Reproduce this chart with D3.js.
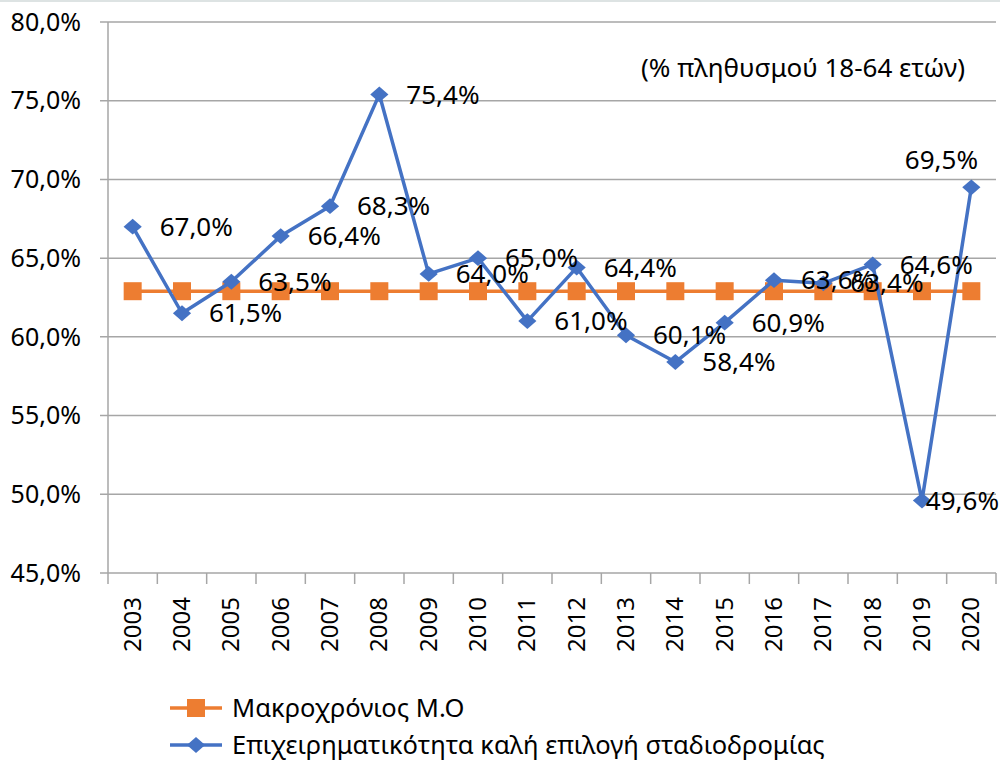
<!DOCTYPE html>
<html>
<head>
<meta charset="utf-8">
<script src="https://cdn.jsdelivr.net/npm/d3@7"></script>
<style>
  body { margin: 0; background: #fff; }
  svg text { font-family: "Noto Sans", "DejaVu Sans", sans-serif; fill: #000; }
</style>
</head>
<body>
<svg id="chart" width="1000" height="762"></svg>
<script>
const years = ["2003","2004","2005","2006","2007","2008","2009","2010","2011","2012","2013","2014","2015","2016","2017","2018","2019","2020"];
const careerChoice = [67.0, 61.5, 63.5, 66.4, 68.3, 75.4, 64.0, 65.0, 61.0, 64.4, 60.1, 58.4, 60.9, 63.6, 63.4, 64.6, 49.6, 69.5];
const longTermAvg = [62.9, 62.9, 62.9, 62.9, 62.9, 62.9, 62.9, 62.9, 62.9, 62.9, 62.9, 62.9, 62.9, 62.9, 62.9, 62.9, 62.9, 62.9];
const yTicks = [45, 50, 55, 60, 65, 70, 75, 80];
const seriesNames = ["Μακροχρόνιος Μ.Ο", "Επιχειρηματικότητα καλή επιλογή σταδιοδρομίας"];
const note = "(% πληθυσμού 18-64 ετών)";

const orange = "#ED7D31";
const blue = "#4472C4";
const grid = "#a6a6a6";

const svg = d3.select("#chart");
const plotLeft = 108, plotRight = 996, plotTop = 22, plotBottom = 573;

const x = d3.scaleBand().domain(years).range([plotLeft, plotRight]);
const y = d3.scaleLinear().domain([45, 80]).range([plotBottom, plotTop]);
const fmt = v => d3.format(".1f")(v).replace(".", ",") + "%";

// thin border at top of the chart area
svg.append("rect").attr("x", 0).attr("y", 0).attr("width", 1000).attr("height", 2).attr("fill", "#dde3e3");

// horizontal gridlines
svg.append("g").selectAll("line").data(yTicks).join("line")
  .attr("x1", plotLeft - 8).attr("x2", plotRight)
  .attr("y1", d => y(d)).attr("y2", d => y(d))
  .attr("stroke", grid).attr("stroke-width", 1.5);

// y axis line
svg.append("line").attr("x1", plotLeft).attr("x2", plotLeft).attr("y1", plotTop).attr("y2", plotBottom)
  .attr("stroke", grid).attr("stroke-width", 1.5);

// y tick labels
svg.append("g").selectAll("text").data(yTicks).join("text")
  .attr("x", 81).attr("y", d => y(d)).attr("dy", "0.35em")
  .attr("text-anchor", "end").attr("font-size", 25)
  .text(d => fmt(d));

// x axis ticks at band edges
const edges = years.map(d => x(d)).concat([plotRight]);
svg.append("g").selectAll("line").data(edges).join("line")
  .attr("x1", d => d).attr("x2", d => d).attr("y1", plotBottom).attr("y2", plotBottom + 11)
  .attr("stroke", grid).attr("stroke-width", 1.5);

// x labels rotated
svg.append("g").selectAll("text").data(years).join("text")
  .attr("transform", d => `translate(${x(d) + x.bandwidth() / 2 + 8},${597}) rotate(-90)`)
  .attr("text-anchor", "end").attr("font-size", 24)
  .text(d => d);

const cx = i => x(years[i]) + x.bandwidth() / 2;
const line = d3.line().x((d, i) => cx(i)).y(d => y(d));

// long-term average
svg.append("path").datum(longTermAvg).attr("d", line)
  .attr("fill", "none").attr("stroke", orange).attr("stroke-width", 3.5);
svg.append("g").selectAll("rect").data(longTermAvg).join("rect")
  .attr("x", (d, i) => cx(i) - 9).attr("y", d => y(d) - 9)
  .attr("width", 18).attr("height", 18).attr("fill", orange);

// career choice series
svg.append("path").datum(careerChoice).attr("d", line)
  .attr("fill", "none").attr("stroke", blue).attr("stroke-width", 3.5).attr("stroke-linejoin", "round");
const diamond = d3.symbol().type(d3.symbolDiamond2).size(160);
svg.append("g").selectAll("path").data(careerChoice).join("path")
  .attr("d", diamond)
  .attr("transform", (d, i) => `translate(${cx(i)},${y(d)}) scale(1.15,1)`)
  .attr("fill", blue);

// data labels: to the right, last one above, kept inside the frame
const labels = svg.append("g").selectAll("text").data(careerChoice).join("text")
  .attr("font-size", 26)
  .text(d => fmt(d));
labels.each(function(d, i) {
  const t = d3.select(this);
  const w = this.getComputedTextLength();
  let lx, ly;
  if (i === careerChoice.length - 1) {
    lx = Math.min(cx(i) - w / 2, 978 - w);
    ly = y(d) - 27;
  } else {
    lx = Math.min(cx(i) + 27, 999 - w);
    ly = y(d);
  }
  t.attr("x", lx).attr("y", ly).attr("dy", "0.35em");
});

// note
svg.append("text").attr("x", 965).attr("y", 68).attr("dy", "0.35em")
  .attr("text-anchor", "end").attr("font-size", 26).text(note);

// legend
const legend = svg.append("g");
const legendColors = [orange, blue];
legendColors.forEach((c, i) => {
  const ly = 708 + i * 37;
  legend.append("line").attr("x1", 170).attr("x2", 222).attr("y1", ly).attr("y2", ly)
    .attr("stroke", c).attr("stroke-width", 3.5);
  if (i === 0) {
    legend.append("rect").attr("x", 187).attr("y", ly - 9).attr("width", 18).attr("height", 18).attr("fill", c);
  } else {
    legend.append("path").attr("d", diamond)
      .attr("transform", `translate(196,${ly}) scale(1.15,1)`).attr("fill", c);
  }
  legend.append("text").attr("x", 232).attr("y", ly).attr("dy", "0.35em")
    .attr("font-size", 25.5).text(seriesNames[i]);
});
</script>
</body>
</html>
